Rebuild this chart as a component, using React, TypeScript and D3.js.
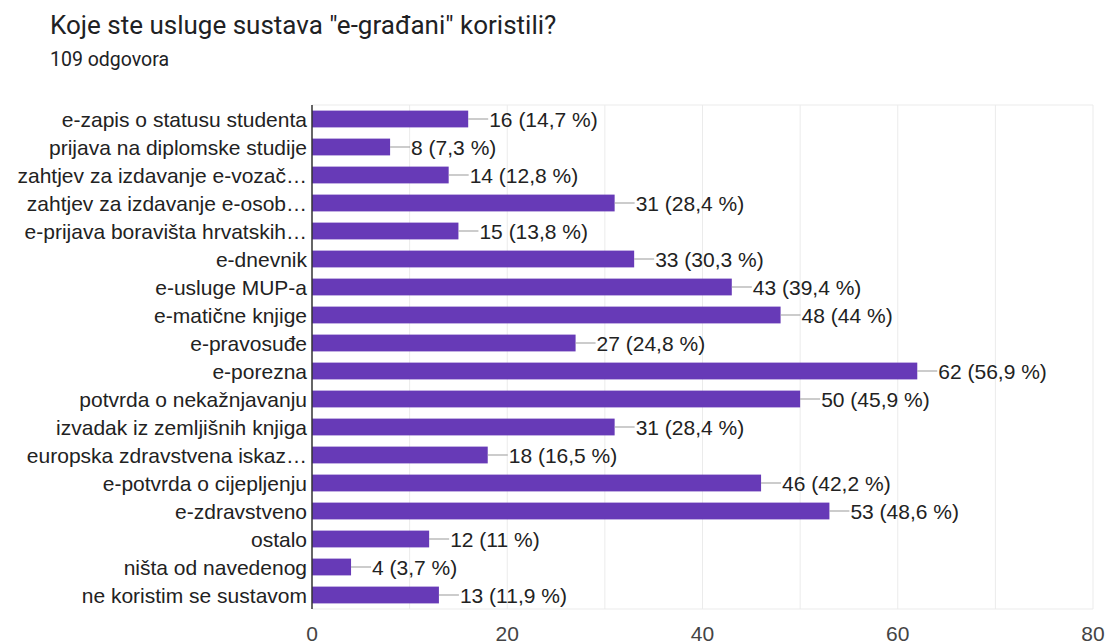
import React, { useEffect, useRef } from 'react';
import * as d3 from 'd3';

const width = 1107;
const height = 644;

const categories = [
  'e-zapis o statusu studenta',
  'prijava na diplomske studije',
  'zahtjev za izdavanje e-vozač…',
  'zahtjev za izdavanje e-osob…',
  'e-prijava boravišta hrvatskih…',
  'e-dnevnik',
  'e-usluge MUP-a',
  'e-matične knjige',
  'e-pravosuđe',
  'e-porezna',
  'potvrda o nekažnjavanju',
  'izvadak iz zemljišnih knjiga',
  'europska zdravstvena iskaz…',
  'e-potvrda o cijepljenju',
  'e-zdravstveno',
  'ostalo',
  'ništa od navedenog',
  'ne koristim se sustavom',
];
const counts = [16, 8, 14, 31, 15, 33, 43, 48, 27, 62, 50, 31, 18, 46, 53, 12, 4, 13];
const total = 109;
const xTicks = [0, 20, 40, 60, 80];

const margin = { top: 105, right: 14, bottom: 35, left: 312 };

const App: React.FC = () => {
  const ref = useRef<SVGSVGElement>(null);

  useEffect(() => {
    if (!ref.current) return;
    const svg = d3.select(ref.current);
    svg.selectAll('*').remove();

    const x = d3.scaleLinear().domain([0, 80]).range([margin.left, width - margin.right]);
    const y = d3
      .scaleBand<string>()
      .domain(categories)
      .range([margin.top, height - margin.bottom])
      .paddingInner(0.4)
      .paddingOuter(0.2);

    svg
      .append('text')
      .attr('x', 50)
      .attr('y', 34)
      .attr('font-family', 'Roboto, sans-serif')
      .attr('font-size', 26)
      .attr('fill', '#202124')
      .text('Koje ste usluge sustava "e-građani" koristili?');

    svg
      .append('text')
      .attr('x', 50)
      .attr('y', 66)
      .attr('font-family', 'Roboto, sans-serif')
      .attr('font-size', 19.5)
      .attr('fill', '#202124')
      .text(`${total} odgovora`);

    // grid every 10
    svg
      .append('g')
      .selectAll('line')
      .data(d3.range(10, 81, 10))
      .enter()
      .append('line')
      .attr('x1', d => x(d))
      .attr('x2', d => x(d))
      .attr('y1', margin.top)
      .attr('y2', height - margin.bottom)
      .attr('stroke', '#ebebeb')
      .attr('stroke-width', 1);

    svg
      .append('line')
      .attr('x1', margin.left)
      .attr('x2', width - margin.right)
      .attr('y1', margin.top)
      .attr('y2', margin.top)
      .attr('stroke', '#ebebeb');
    svg
      .append('line')
      .attr('x1', margin.left)
      .attr('x2', width - margin.right)
      .attr('y1', height - margin.bottom)
      .attr('y2', height - margin.bottom)
      .attr('stroke', '#ebebeb');

    const font = '"Liberation Sans", Arial, sans-serif';
    const fmt = (v: number) => {
      const p = Math.round((v / total) * 1000) / 10;
      return (p % 1 === 0 ? p.toFixed(0) : p.toFixed(1)).replace('.', ',');
    };

    const rows = svg.append('g').selectAll('g').data(categories).enter().append('g');

    rows
      .append('rect')
      .attr('x', x(0))
      .attr('y', d => y(d)!)
      .attr('height', y.bandwidth())
      .attr('width', (d, i) => x(counts[i]) - x(0))
      .attr('fill', '#673ab7');

    rows
      .append('line')
      .attr('x1', (d, i) => x(counts[i]))
      .attr('x2', (d, i) => x(counts[i]) + 20)
      .attr('y1', d => y(d)! + y.bandwidth() / 2)
      .attr('y2', d => y(d)! + y.bandwidth() / 2)
      .attr('stroke', '#999')
      .attr('stroke-width', 1);

    rows
      .append('text')
      .attr('x', (d, i) => x(counts[i]) + 21)
      .attr('y', d => y(d)! + y.bandwidth() / 2)
      .attr('dy', '0.36em')
      .attr('font-family', font)
      .attr('font-size', 21)
      .attr('fill', '#222')
      .text((d, i) => `${counts[i]} (${fmt(counts[i])} %)`);

    rows
      .append('text')
      .attr('x', margin.left - 5)
      .attr('y', d => y(d)! + y.bandwidth() / 2)
      .attr('dy', '0.36em')
      .attr('text-anchor', 'end')
      .attr('font-family', font)
      .attr('font-size', 21)
      .attr('fill', '#222')
      .text(d => d);

    svg
      .append('line')
      .attr('x1', margin.left)
      .attr('x2', margin.left)
      .attr('y1', margin.top)
      .attr('y2', height - margin.bottom)
      .attr('stroke', '#333')
      .attr('stroke-width', 1.5);

    svg
      .append('g')
      .selectAll('text')
      .data(xTicks)
      .enter()
      .append('text')
      .attr('x', d => x(d))
      .attr('y', 641)
      .attr('text-anchor', 'middle')
      .attr('font-family', font)
      .attr('font-size', 21)
      .attr('fill', '#444')
      .text(d => String(d));
  }, []);

  return <svg ref={ref} width={width} height={height} style={{ display: 'block', position: 'absolute', top: 0, left: 0 }} />;
};

export default App;
